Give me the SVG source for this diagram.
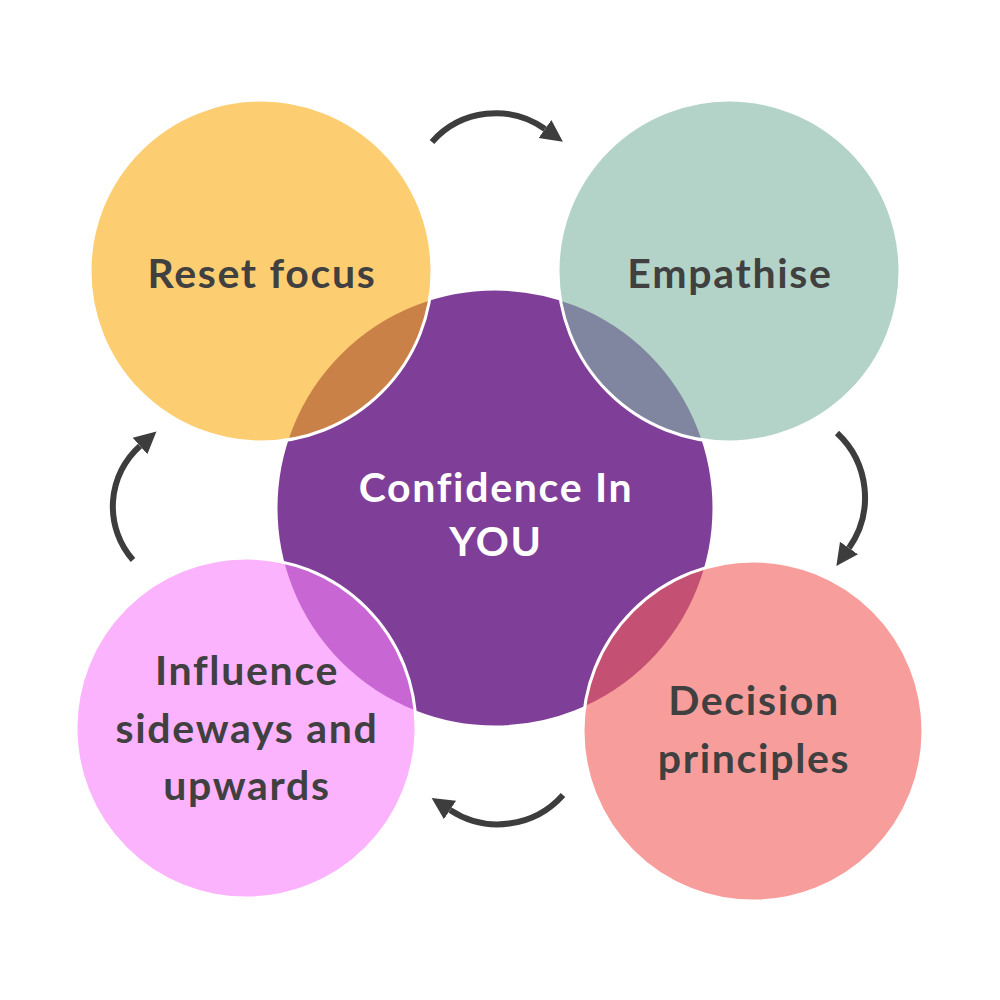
<svg xmlns="http://www.w3.org/2000/svg" width="1000" height="1000" viewBox="0 0 1000 1000">
  <defs>
    <marker id="head" markerUnits="userSpaceOnUse" markerWidth="26" markerHeight="26" viewBox="0 -13 26 26" refX="0" refY="0" orient="auto">
      <path d="M0,-11 L22,0 L0,11 z" fill="#3d3d3d"/>
    </marker>
    <style>
      .lbl { font-family: Lato, "Noto Sans", "Liberation Sans", sans-serif; font-weight: 700; font-size: 41px; letter-spacing: 1.7px; text-anchor: middle; fill: #404040; }
      .center-lbl { fill: #ffffff; }
      .outer { stroke: #ffffff; stroke-width: 3; fill-opacity: 0.6; }
      .arrow { fill: none; stroke: #3d3d3d; stroke-width: 6; marker-end: url(#head); }
    </style>
  </defs>
  <rect width="1000" height="1000" fill="#ffffff"/>

  <g id="center">
    <circle cx="495" cy="508" r="219" fill="#7f3f98" stroke="#ffffff" stroke-width="3"/>
  </g>

  <g id="reset-focus">
    <circle class="outer" cx="261" cy="271" r="171" fill="#fcad12"/>
  </g>
  <g id="empathise">
    <circle class="outer" cx="729" cy="271" r="171" fill="#80b6a5"/>
  </g>
  <g id="decision-principles">
    <circle class="outer" cx="753" cy="731" r="170" fill="#f25d5a"/>
  </g>
  <g id="influence">
    <circle class="outer" cx="246" cy="728" r="170" fill="#f880fc"/>
  </g>

  <g id="labels">
    <text class="lbl center-lbl" x="496" y="502">Confidence In</text>
    <text class="lbl center-lbl" x="496" y="556">YOU</text>
    <text class="lbl" x="262" y="288">Reset focus</text>
    <text class="lbl" x="730" y="288">Empathise</text>
    <text class="lbl" x="754" y="715">Decision</text>
    <text class="lbl" x="754" y="773">principles</text>
    <text class="lbl" x="247" y="685">Influence</text>
    <text class="lbl" x="247" y="743">sideways and</text>
    <text class="lbl" x="247" y="800">upwards</text>
  </g>

  <g id="connectors">
    <path class="arrow" d="M432,142 A85,85 0 0,1 545,129"/>
    <path class="arrow" d="M837,433 A88,88 0 0,1 849,548"/>
    <path class="arrow" d="M563,795 A87,87 0 0,1 450,810"/>
    <path class="arrow" d="M133,560 A81,81 0 0,1 140,446"/>
  </g>
</svg>
